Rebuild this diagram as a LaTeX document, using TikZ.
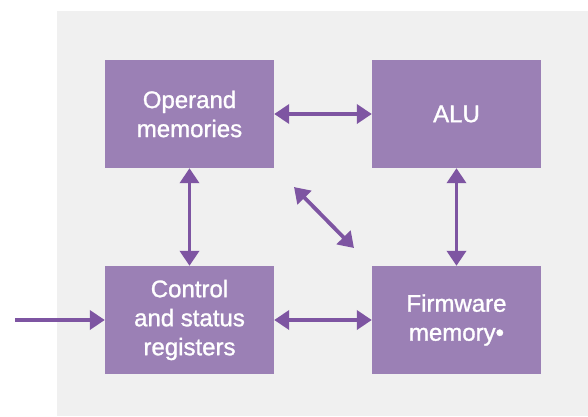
\documentclass[tikz,border=0pt]{standalone}
\usepackage{fontspec}
\setmainfont{Liberation Sans}
\newfontfamily\unitfont[FakeBold=1.2]{Liberation Sans}
\usetikzlibrary{arrows.meta}
\definecolor{boxfill}{HTML}{9B80B5}
\definecolor{linkcol}{HTML}{7E55A2}
\definecolor{panel}{HTML}{F0F0F0}
\begin{document}
\begin{tikzpicture}[x=1pt,y=-1pt,
  unit/.style={fill=boxfill, text=white, minimum width=169pt, minimum height=108pt,
    inner sep=0pt, align=center, font=\unitfont\fontsize{24}{29}\selectfont},
  link/.style={draw=linkcol, line width=3.8pt,
    {Triangle[length=15pt,width=19pt]}-{Triangle[length=15pt,width=19pt]}},
  feed/.style={draw=linkcol, line width=3.8pt, -{Triangle[length=15pt,width=19pt]}}]
  \useasboundingbox (0,0) rectangle (588,416);
  \fill[panel] (57,11) rectangle (588,416);

  \node[unit] (opm) at (189.5,114) {Operand\\memories};
  \node[unit] (alu) at (456.5,114) {ALU};
  \node[unit] (csr) at (189.5,320) {Control\\and status\\registers};
  \node[unit] (fwm) at (456.5,320) {Firmware\\memory•};

  \coordinate (in) at (15,320);
  \coordinate (d1) at (294,187);
  \coordinate (d2) at (354,248);

  \draw[link] (opm.east |- 0,114) -- (alu.west |- 0,114);
  \draw[link] (csr.east |- 0,320) -- (fwm.west |- 0,320);
  \draw[link] (opm.south) -- (csr.north);
  \draw[link] (alu.south) -- (fwm.north);
  \draw[link] (d1) -- (d2);
  \draw[feed] (in) -- (csr.west);
\end{tikzpicture}
\end{document}
